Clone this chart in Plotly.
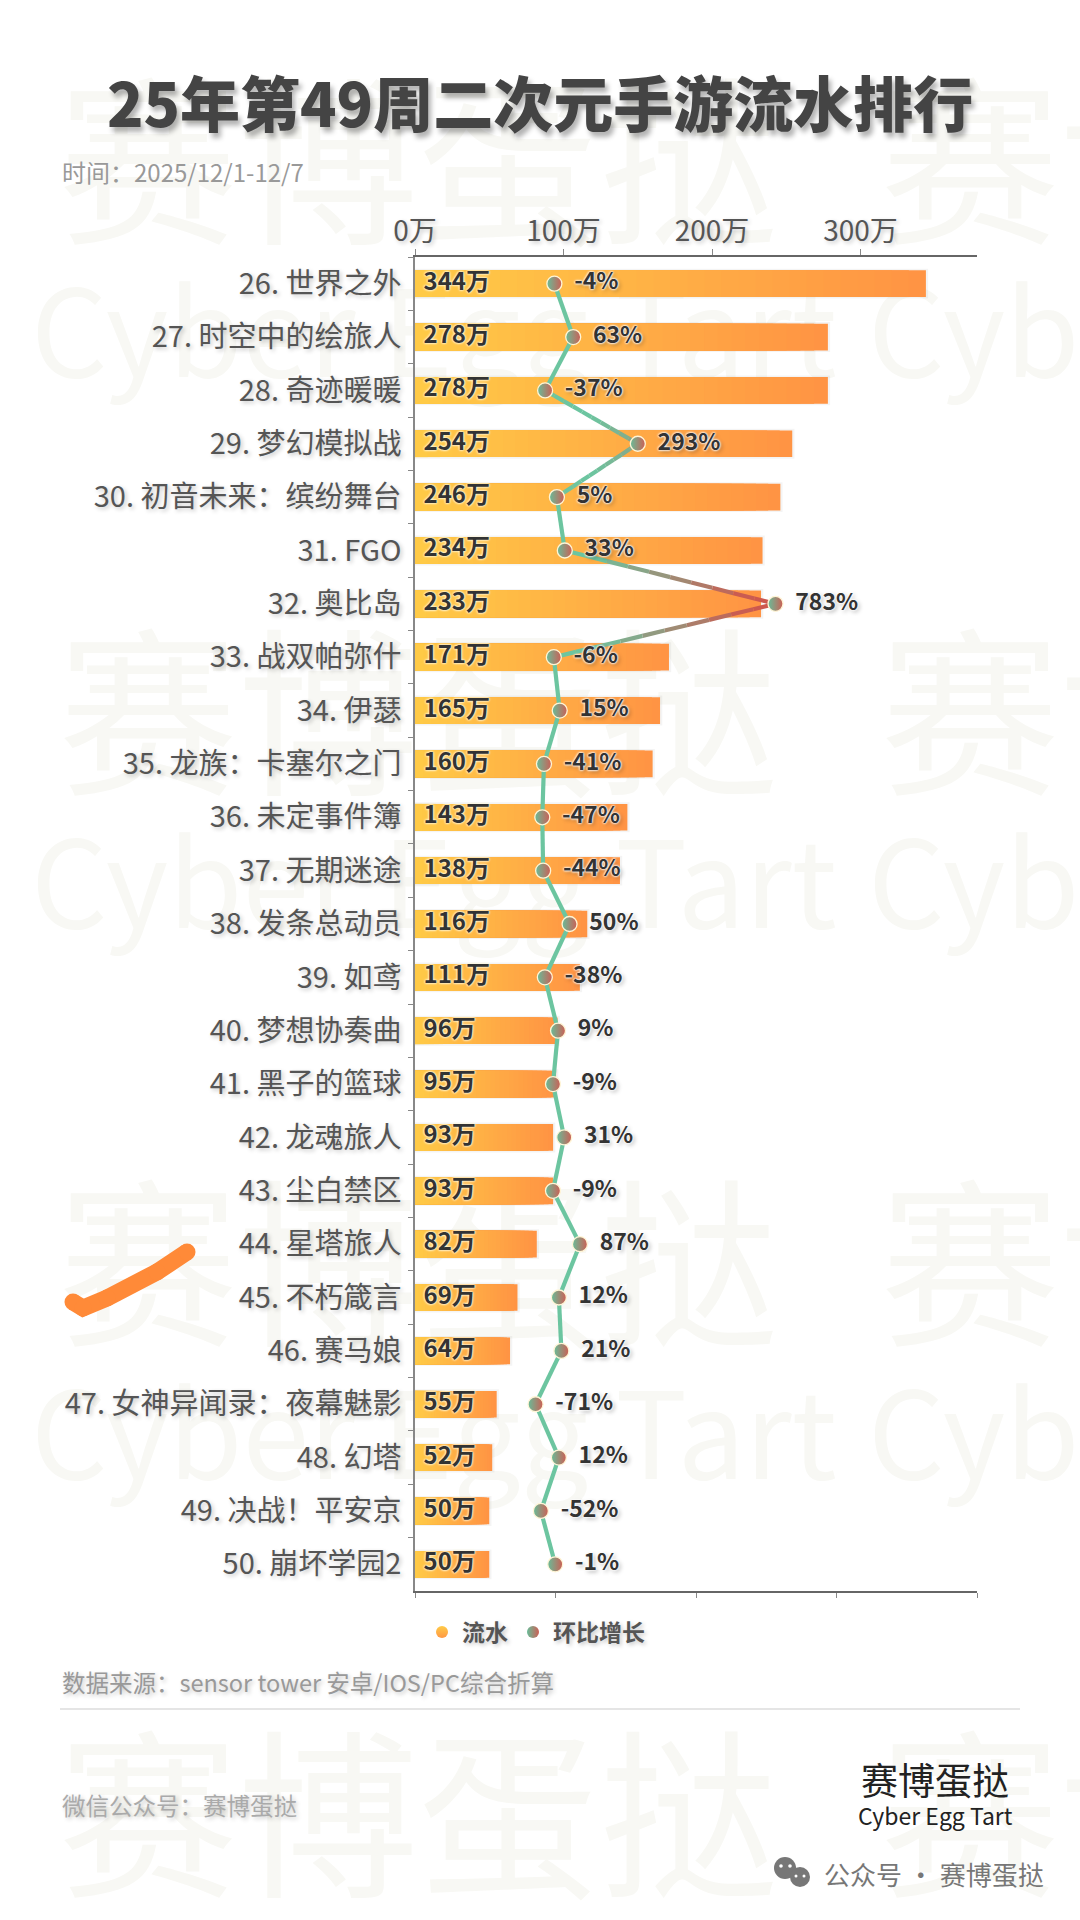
import plotly.graph_objects as go

FONT = "Noto Sans CJK SC"
W, H = 1080, 1920

games = ["世界之外", "时空中的绘旅人", "奇迹暖暖", "梦幻模拟战", "初音未来：缤纷舞台", "FGO", "奥比岛",
         "战双帕弥什", "伊瑟", "龙族：卡塞尔之门", "未定事件簿", "无期迷途", "发条总动员", "如鸢",
         "梦想协奏曲", "黑子的篮球", "龙魂旅人", "尘白禁区", "星塔旅人", "不朽箴言", "赛马娘",
         "女神异闻录：夜幕魅影", "幻塔", "决战！平安京", "崩坏学园2"]
ranks = list(range(26, 51))
revenue = [344, 278, 278, 254, 246, 234, 233, 171, 165, 160, 143, 138, 116, 111,
           96, 95, 93, 93, 82, 69, 64, 55, 52, 50, 50]
growth = [-4, 63, -37, 293, 5, 33, 783, -6, 15, -41, -47, -44, 50, -38,
          9, -9, 31, -9, 87, 12, 21, -71, 12, -52, -1]
revenue_ticks = [0, 100, 200, 300]
growth_ticks = [-500, 0, 500, 1000, 1500]
watermark_rows = [("赛博蛋挞", 185, 58, 880), ("Cyber Egg Tart", 347, 31, 868),
                  ("赛博蛋挞", 736, 58, 880), ("Cyber Egg Tart", 898, 31, 868),
                  ("赛博蛋挞", 1287, 58, 880), ("Cyber Egg Tart", 1449, 31, 868),
                  ("赛博蛋挞", 1838, 58, 880)]

cats = [f"{r}. {g}" for r, g in zip(ranks, games)]
rows = list(range(len(cats)))


def mix(c1, c2, t):
    t = max(0.0, min(1.0, t))
    return "rgb(%d,%d,%d)" % tuple(round(a + (b - a) * t) for a, b in zip(c1, c2))


BAR_L, BAR_R = (255, 202, 70), (255, 148, 68)
LINE_G, LINE_R = (108, 197, 160), (205, 88, 78)
HALO = "0 0 2px #fff, 0 0 2px #fff, 0 0 3px #fff, 2px 2px 4px rgba(0,0,0,0.3)"
SOFT = "2px 2px 4px rgba(0,0,0,0.22)"

fig = go.Figure()

# watermark on its own full-page subplot, beneath the chart
for txt, y, x0, x1 in watermark_rows:
    size = 180 if txt[0] == "赛" else 120
    fig.add_trace(go.Scatter(x=[x0, x1], y=[y, y], text=[txt, txt], mode="text", textposition="middle right",
                             textfont=dict(family=FONT, size=size, color="#f8f8f4"), cliponaxis=False,
                             showlegend=False, hoverinfo="skip", xaxis="x", yaxis="y"))

# soft bar shadow
fig.add_trace(go.Bar(x=[v + 1.5 for v in revenue], y=cats, orientation="h", width=0.56,
                     marker=dict(color="rgba(0,0,0,0.045)", line_width=0),
                     showlegend=False, hoverinfo="skip", xaxis="x2", yaxis="y2"))
# gradient bars: nested bars, longest first
N = 30
for k in range(N - 1, -1, -1):
    fig.add_trace(go.Bar(x=[v * (k + 1) / N for v in revenue], y=cats, orientation="h", width=0.5,
                         marker=dict(color=mix(BAR_L, BAR_R, k / (N - 1)), line_width=0),
                         showlegend=False, hoverinfo="skip", xaxis="x2", yaxis="y2"))
# value labels
fig.add_trace(go.Scatter(x=[0] * len(cats), y=cats, text=[f"{v}万" for v in revenue], mode="markers+text",
                         marker=dict(size=12, color="rgba(0,0,0,0)"), textposition="middle right",
                         textfont=dict(family=FONT, size=24, color="#333333", weight="bold",
                                       shadow="0 0 2px #fff8dc, 0 0 2px #fff8dc, 0 0 3px #fff8dc"),
                         showlegend=False, hoverinfo="skip", xaxis="x2", yaxis="y2"))

# growth line, coloured along its length
for i in range(len(cats) - 1):
    g0, g1 = growth[i], growth[i + 1]
    parts = 10 if max(g0, g1) > 130 else 1
    yi = [i + (j / parts) for j in range(parts + 1)]
    gi = [g0 + (g1 - g0) * j / parts for j in range(parts + 1)]
    for j in range(parts):
        t = ((gi[j] + gi[j + 1]) / 2 - 130) / 560
        fig.add_trace(go.Scatter(x=[gi[j], gi[j + 1]], y=[yi[j], yi[j + 1]], mode="lines",
                                 line=dict(color=mix(LINE_G, LINE_R, t), width=4.2),
                                 showlegend=False, hoverinfo="skip", xaxis="x3", yaxis="y3"))

# growth markers
fig.add_trace(go.Scatter(x=growth, y=rows, mode="markers",
                         marker=dict(size=15, color="#68BC98", line=dict(color="#fff5d6", width=1.3),
                                     gradient=dict(type="horizontal", color="#CC5F55")),
                         showlegend=False, hoverinfo="skip", xaxis="x3", yaxis="y3"))
fig.add_trace(go.Scatter(x=growth, y=rows, mode="markers+text", text=[f"{g}%" for g in growth],
                         marker=dict(size=30, color="rgba(0,0,0,0)"), textposition="middle right",
                         textfont=dict(family=FONT, size=23, color="#333333", weight="bold", shadow=HALO),
                         showlegend=False, hoverinfo="skip", xaxis="x3", yaxis="y3"))

# legend entries
fig.add_trace(go.Scatter(x=[None], y=[None], mode="markers", name="流水",
                         marker=dict(size=12, color="#FFCB47", line_width=0,
                                     gradient=dict(type="vertical", color="#FF9844")),
                         xaxis="x2", yaxis="y2"))
fig.add_trace(go.Scatter(x=[None], y=[None], mode="markers", name="环比增长",
                         marker=dict(size=12, color="#68BC98", line_width=0,
                                     gradient=dict(type="horizontal", color="#CC5F55")),
                         xaxis="x3", yaxis="y3"))


def px(x):
    return x / W


def py(y):
    return 1 - y / H


def note(text, x, y, size, color, anchor="left", weight="normal", shadow="none"):
    return dict(text=text, x=px(x), y=py(y), xref="paper", yref="paper", xanchor=anchor, yanchor="middle",
                showarrow=False, font=dict(family=FONT, size=size, color=color, weight=weight, shadow=shadow))


annotations = [
    note("25年第49周二次元手游流水排行", 540, 100, 60, "#444444", "center", 900, "3px 5px 5px rgba(0,0,0,0.3)"),
    note("时间：2025/12/1-12/7", 60, 171, 24, "#999999"),
    note("数据来源：sensor tower 安卓/IOS/PC综合折算", 60, 1682, 23.5, "#999999", shadow=SOFT),
    note("微信公众号：赛博蛋挞", 60, 1805, 23.5, "#aaaaaa", shadow=SOFT),
    note("赛博蛋挞", 935, 1779, 37, "#222222", "center"),
    note("Cyber Egg Tart", 935, 1815, 23, "#222222", "center"),
    note("公众号 · 赛博蛋挞", 822, 1873, 26, "#777777"),
]


def circle(cx, cy, r, color):
    return dict(type="circle", xref="paper", yref="paper", x0=px(cx - r), x1=px(cx + r),
                y0=py(cy + r), y1=py(cy - r), fillcolor=color, line_width=0)


stroke = [(73, 1302), (83, 1308), (107, 1298), (157, 1272), (187, 1252)]
stroke_path = "M " + " L ".join(f"{px(x)} {py(y)}" for x, y in stroke)
shapes = [
    dict(type="line", xref="paper", yref="paper", x0=px(60), x1=px(1020), y0=py(1709), y1=py(1709),
         line=dict(color="#dddddd", width=1.5)),
    dict(type="path", xref="paper", yref="paper", path=stroke_path, line=dict(color="#FF8A38", width=17)),
    circle(73, 1302, 8.5, "#FF8A38"), circle(83, 1308, 8.5, "#FF8A38"), circle(107, 1298, 8.5, "#FF8A38"),
    circle(157, 1272, 8.5, "#FF8A38"), circle(187, 1252, 8.5, "#FF8A38"),
    # WeChat glyph
    circle(785, 1868, 11, "#777777"), circle(800, 1877, 10, "#777777"),
    circle(781, 1866, 1.8, "#ffffff"), circle(790, 1866, 1.8, "#ffffff"),
    circle(796, 1876, 1.5, "#ffffff"), circle(804, 1876, 1.5, "#ffffff"),
]

domain_x = [415 / W, 977 / W]
domain_y = [1 - 1591 / H, 1 - 257 / H]
fig.update_layout(
    width=W, height=H, margin=dict(l=0, r=0, t=0, b=0, pad=0, autoexpand=False),
    paper_bgcolor="#ffffff", plot_bgcolor="rgba(0,0,0,0)",
    barmode="overlay", font=dict(family=FONT),
    annotations=annotations, shapes=shapes, hovermode=False,
    legend=dict(orientation="h", x=536 / W, xanchor="center", y=py(1632), yanchor="middle",
                bgcolor="rgba(0,0,0,0)", itemclick=False, itemdoubleclick=False,
                font=dict(family=FONT, size=23, color="#555555", weight="bold", shadow=SOFT)),
    xaxis=dict(domain=[0, 1], range=[0, W], visible=False, fixedrange=True),
    yaxis=dict(domain=[0, 1], range=[H, 0], visible=False, fixedrange=True),
    xaxis2=dict(domain=domain_x, range=[0, 378.4], side="top", anchor="y2", tickvals=revenue_ticks,
                ticktext=[f"{v}万" for v in revenue_ticks], showgrid=False, zeroline=False, showline=True,
                linecolor="#666666", linewidth=1.5, ticks="outside", ticklen=6, tickcolor="#888888", tickwidth=1,
                ticklabelstandoff=-3,
                tickfont=dict(family=FONT, size=28, color="#555555", shadow=SOFT)),
    xaxis3=dict(domain=domain_x, range=[-500, 1500], side="bottom", anchor="y2", overlaying="x2",
                tickvals=growth_ticks, ticktext=[""] * len(growth_ticks), showgrid=False, zeroline=False,
                showline=True, linecolor="#666666", linewidth=1.5, ticks="outside", ticklen=5,
                tickcolor="#888888", tickwidth=1),
    yaxis2=dict(domain=domain_y, anchor="x2", type="category", categoryorder="array", categoryarray=cats,
                range=[24.5, -0.5], tickson="boundaries", ticks="outside", ticklen=5, tickcolor="#888888",
                showgrid=False, zeroline=False, showline=True, linecolor="#888888", linewidth=1.5,
                ticklabelstandoff=6,
                tickfont=dict(family=FONT, size=29, color="#555555", shadow=SOFT)),
    yaxis3=dict(domain=domain_y, anchor="x3", overlaying="y2", range=[24.5, -0.5], visible=False),
)

fig.write_html("out.html", post_script="document.body.style.margin='0';document.body.style.overflow='hidden';",
               config={"displayModeBar": False})
